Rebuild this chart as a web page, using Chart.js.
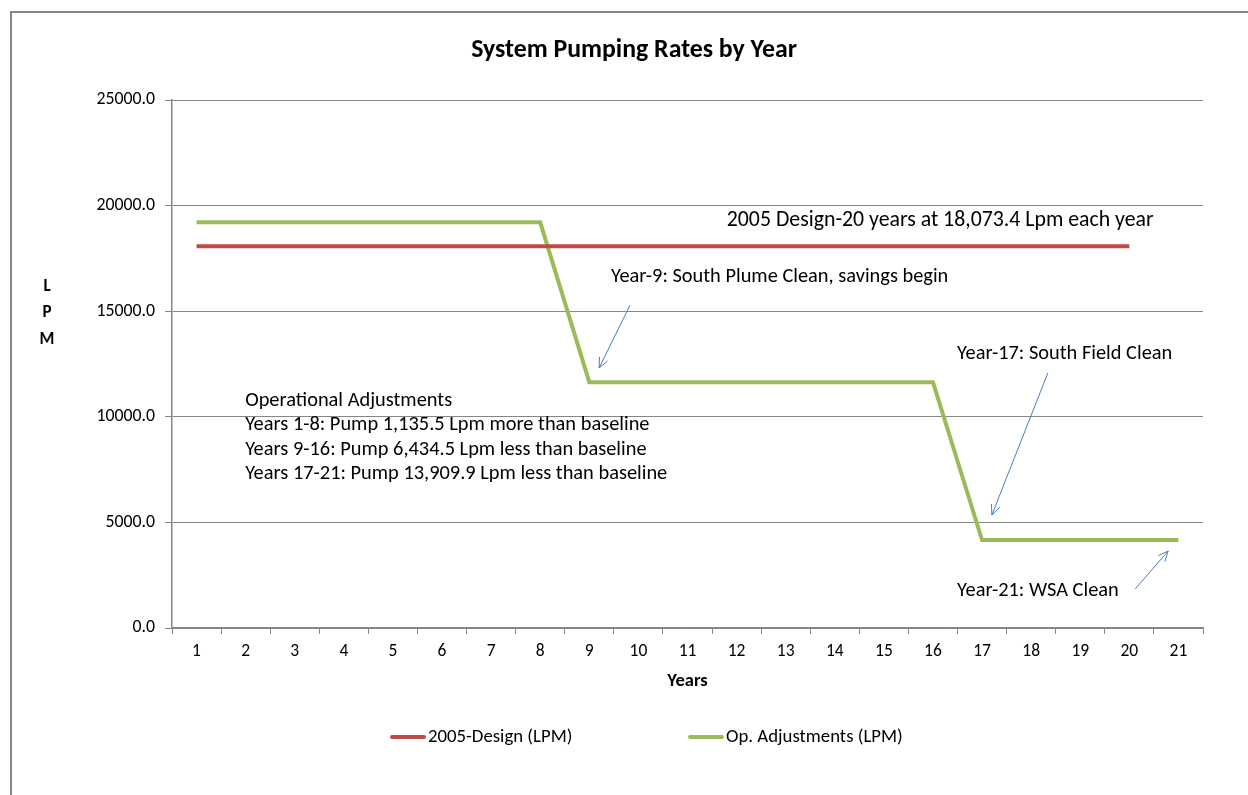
<!DOCTYPE html>
<html>
<head>
<meta charset="utf-8">
<script src="https://cdn.jsdelivr.net/npm/chart.js@4.4.1/dist/chart.umd.min.js"></script>
<style>
  html, body { margin: 0; padding: 0; background: #fff; }
  #wrap { position: relative; width: 1248px; height: 795px; overflow: hidden; }
</style>
</head>
<body>
<div id="wrap"><canvas id="mychart" width="1248" height="795"></canvas></div>
<script>
// data
const years = ["1","2","3","4","5","6","7","8","9","10","11","12","13","14","15","16","17","18","19","20","21"];
const designLpm = [18073.4,18073.4,18073.4,18073.4,18073.4,18073.4,18073.4,18073.4,18073.4,18073.4,
                   18073.4,18073.4,18073.4,18073.4,18073.4,18073.4,18073.4,18073.4,18073.4,18073.4,null];
const opAdjLpm = [19208.9,19208.9,19208.9,19208.9,19208.9,19208.9,19208.9,19208.9,
                  11638.9,11638.9,11638.9,11638.9,11638.9,11638.9,11638.9,11638.9,
                  4163.5,4163.5,4163.5,4163.5,4163.5];
const seriesNames = ["2005-Design (LPM)", "Op. Adjustments (LPM)"];
const yTicks = [0, 5000, 10000, 15000, 20000, 25000];

// notes, placed in data space: [category index, value]
const notes = [
    { text: "2005 Design-20 years at 18,073.4 Lpm each year", at: [10.80, 19271], size: 21.8 },
    { text: "Year-9: South Plume Clean, savings begin", at: [8.44, 16620], size: 20.4 },
    { text: "Year-17: South Field Clean", at: [15.49, 12974], size: 20.4 },
    { text: "Year-21: WSA Clean", at: [15.49, 1752], size: 20.4 }
];
const opsBlock = {
    lines: ["Operational Adjustments",
            "Years 1-8: Pump 1,135.5 Lpm more than baseline",
            "Years 9-16: Pump 6,434.5 Lpm less than baseline",
            "Years 17-21: Pump 13,909.9 Lpm less than baseline"],
    at: [0.99, 10748]
};
const arrows = [
    { from: [8.83, 15294], to: [8.20, 12311] },
    { from: [17.34, 12074], to: [16.20, 5351] },
    { from: [19.12, 1847], to: [19.79, 3646] }
];

const FONT = "Carlito, Lato, 'Open Sans', sans-serif";
const red = "#be4b48";
const green = "#9bbb59";
const grey = "#868686";

function arrow(ctx, x1, y1, x2, y2) {
    const a = Math.atan2(y2 - y1, x2 - x1);
    const len = 11, spread = 0.42;
    ctx.beginPath();
    ctx.moveTo(x1, y1);
    ctx.lineTo(x2, y2);
    ctx.moveTo(x2 - len * Math.cos(a - spread), y2 - len * Math.sin(a - spread));
    ctx.lineTo(x2, y2);
    ctx.lineTo(x2 - len * Math.cos(a + spread), y2 - len * Math.sin(a + spread));
    ctx.stroke();
}

const decorations = {
    id: 'decorations',
    afterDraw(chart) {
        const ctx = chart.ctx;
        const xs = chart.scales.x, ys = chart.scales.y;
        ctx.save();

        // outer frame (left + top visible)
        ctx.strokeStyle = grey;
        ctx.lineWidth = 2;
        ctx.beginPath();
        ctx.moveTo(11, 800);
        ctx.lineTo(11, 12);
        ctx.lineTo(1260, 12);
        ctx.stroke();

        ctx.fillStyle = "#000";
        ctx.textBaseline = "middle";

        // title
        ctx.textAlign = "center";
        ctx.font = "bold 25.8px " + FONT;
        ctx.fillText("System Pumping Rates by Year", 634, 51);

        // axis titles
        ctx.font = "bold 18.5px " + FONT;
        ctx.fillText("Years", (chart.chartArea.left + chart.chartArea.right) / 2, 681);
        ctx.font = "bold 17px " + FONT;
        ctx.fillText("L", 47, 287);
        ctx.fillText("P", 47, 313);
        ctx.fillText("M", 47, 340);

        // notes
        ctx.textAlign = "left";
        notes.forEach(n => {
            ctx.font = n.size + "px " + FONT;
            ctx.fillText(n.text, xs.getPixelForValue(n.at[0]), ys.getPixelForValue(n.at[1]));
        });
        ctx.font = "20.4px " + FONT;
        const ox = xs.getPixelForValue(opsBlock.at[0]);
        const oy = ys.getPixelForValue(opsBlock.at[1]);
        opsBlock.lines.forEach((l, i) => ctx.fillText(l, ox, oy + i * 24.4));

        // arrows
        ctx.strokeStyle = "#4a7ebb";
        ctx.lineWidth = 1;
        arrows.forEach(a => {
            arrow(ctx,
                xs.getPixelForValue(a.from[0]), ys.getPixelForValue(a.from[1]),
                xs.getPixelForValue(a.to[0]), ys.getPixelForValue(a.to[1]));
        });

        // legend
        const legendX = [390, 688];
        ctx.font = "18.8px " + FONT;
        ctx.lineCap = "round";
        chart.data.datasets.forEach((ds, i) => {
            ctx.strokeStyle = ds.borderColor;
            ctx.lineWidth = 4;
            ctx.beginPath();
            ctx.moveTo(legendX[i] + 2, 737);
            ctx.lineTo(legendX[i] + 34, 737);
            ctx.stroke();
            ctx.fillText(ds.label, legendX[i] + 38, 737);
        });
        ctx.restore();
    }
};

var myChart = new Chart(document.getElementById('mychart'), {
    type: 'line',
    data: {
        labels: years,
        datasets: [{
            label: seriesNames[0],
            data: designLpm,
            borderColor: red,
            backgroundColor: red,
            borderWidth: 4,
            pointRadius: 0,
            tension: 0,
            fill: false
        }, {
            label: seriesNames[1],
            data: opAdjLpm,
            borderColor: green,
            backgroundColor: green,
            borderWidth: 4,
            pointRadius: 0,
            tension: 0,
            fill: false
        }]
    },
    options: {
        responsive: false,
        animation: false,
        layout: { padding: { left: 0, top: 100, right: 45, bottom: 107 } },
        plugins: {
            legend: { display: false },
            title: { display: false },
            tooltip: { enabled: false }
        },
        scales: {
            x: {
                type: 'category',
                offset: true,
                afterFit: s => { s.height = 60; },
                grid: {
                    offset: true,
                    drawOnChartArea: false,
                    drawTicks: true,
                    tickLength: 6,
                    tickColor: grey,
                    tickWidth: 1
                },
                border: { color: grey, width: 1.5 },
                ticks: {
                    color: "#000",
                    font: { family: FONT, size: 17.5 },
                    padding: 7,
                    maxRotation: 0,
                    autoSkip: false
                }
            },
            y: {
                min: 0,
                max: 25000,
                afterFit: s => { s.width = 172; },
                afterBuildTicks: s => { s.ticks = yTicks.map(v => ({ value: v })); },
                grid: {
                    color: grey,
                    lineWidth: 1,
                    tickLength: 7,
                    tickColor: grey
                },
                border: { color: grey, width: 1.5 },
                ticks: {
                    color: "#000",
                    font: { family: FONT, size: 17.8 },
                    padding: 10,
                    callback: v => Number(v).toFixed(1)
                }
            }
        }
    },
    plugins: [decorations]
});
</script>
</body>
</html>
